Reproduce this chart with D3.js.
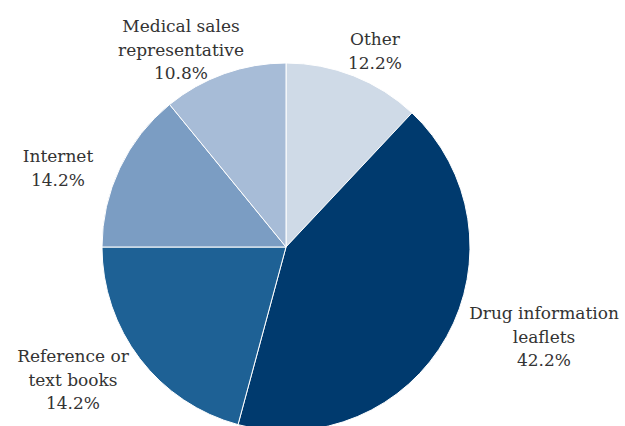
<!DOCTYPE html>
<html>
<head>
<meta charset="utf-8">
<script src="https://cdn.jsdelivr.net/npm/d3@7"></script>
<style>
  html, body { margin: 0; padding: 0; background: #fff; }
  svg text { font-family: "DejaVu Serif", serif; font-size: 17px; fill: #333; }
</style>
</head>
<body>
<svg id="chart" width="625" height="426"></svg>
<script>
// Data (clockwise from 12 o'clock)
const categories = ["Other", "Drug information leaflets", "Reference or text books", "Internet", "Medical sales representative"];
const shares = [12.0, 42.2, 20.8, 14.1, 10.9];           // slice sizes as drawn
const shareLabels = ["12.2%", "42.2%", "14.2%", "14.2%", "10.8%"]; // printed values
const labelLines = [
    ["Other"],
    ["Drug information", "leaflets"],
    ["Reference or", "text books"],
    ["Internet"],
    ["Medical sales", "representative"]
];
const colors = ["#cfdae7", "#003a6e", "#1e6195", "#7b9dc3", "#a7bcd7"];

// Layout
const cx = 286, cy = 247, radius = 184;
const lineHeight = 23.5;
// label anchor: x centre, baseline of first line
const labelAnchors = [[375, 45], [544, 319], [73, 362], [58, 162], [181, 32]];

const svg = d3.select("#chart");
const g = svg.append("g").attr("transform", `translate(${cx},${cy})`);

const pie = d3.pie().sort(null).value(d => d)(shares);
const arc = d3.arc().innerRadius(0).outerRadius(radius);

g.selectAll("path.slice")
    .data(pie)
    .join("path")
    .attr("class", "slice")
    .attr("d", arc)
    .attr("fill", (d, i) => colors[i])
    .attr("stroke", "#fff")
    .attr("stroke-width", 1);

const labels = svg.selectAll("text.label")
    .data(categories)
    .join("text")
    .attr("class", "label")
    .attr("text-anchor", "middle")
    .attr("x", (d, i) => labelAnchors[i][0])
    .attr("y", (d, i) => labelAnchors[i][1]);

labels.each(function(d, i) {
    const t = d3.select(this);
    const lines = labelLines[i].concat([shareLabels[i]]);
    lines.forEach((ln, j) => {
        t.append("tspan")
            .attr("x", labelAnchors[i][0])
            .attr("dy", j === 0 ? 0 : lineHeight)
            .text(ln);
    });
});
</script>
</body>
</html>
